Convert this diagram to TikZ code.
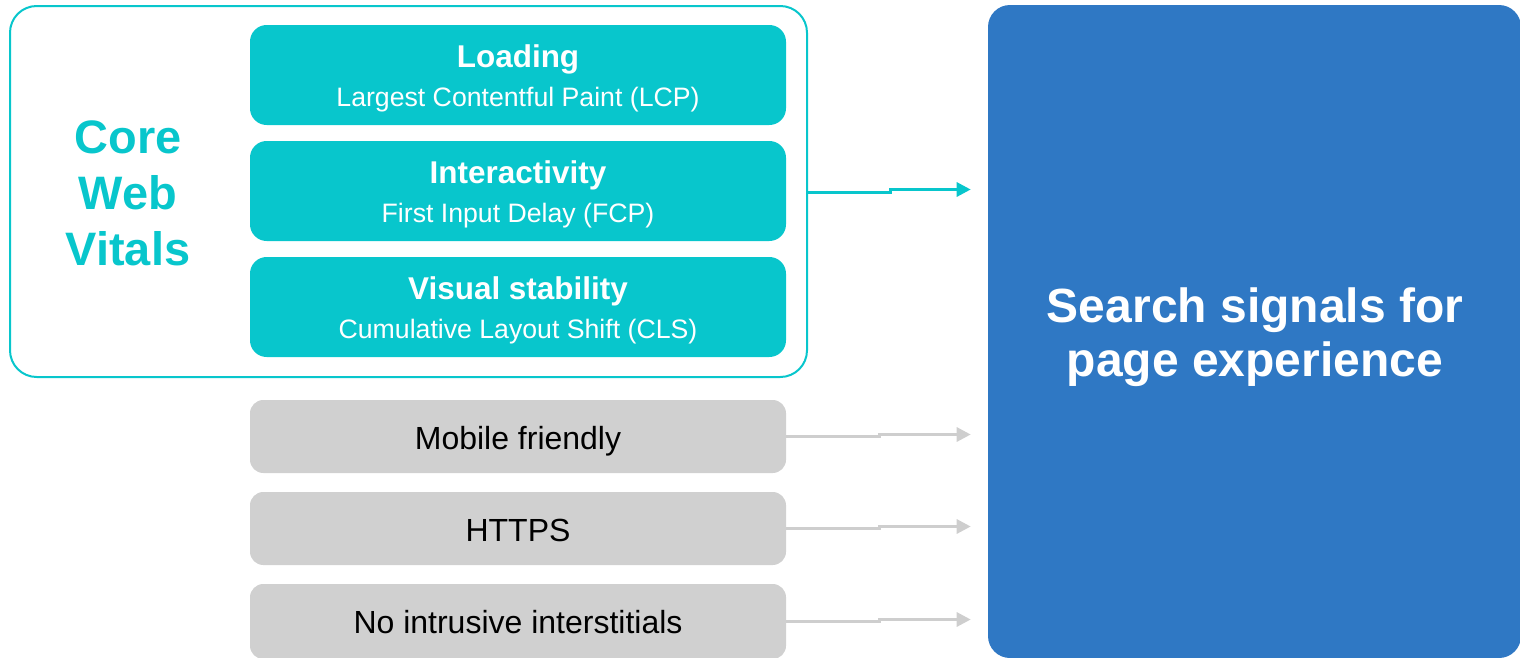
\documentclass[tikz,border=0pt]{standalone}
\usepackage{fontspec}
\setmainfont{Liberation Sans}
\usetikzlibrary{arrows.meta,calc}
\definecolor{teal}{RGB}{8,198,204}
\definecolor{sigblue}{RGB}{47,120,196}
\definecolor{greybox}{RGB}{208,208,208}
\definecolor{greyline}{RGB}{206,206,206}
\tikzset{
  px/.style={x=0.75pt,y=-0.75pt},
  frame/.style={draw=teal,line width=1.5pt,rounded corners=20pt,minimum width=597.75pt,minimum height=278.25pt,inner sep=0pt},
  bluebox/.style={fill=sigblue,draw=none,rounded corners=16.5pt,minimum width=399.75pt,minimum height=489.75pt,inner sep=0pt},
  cwvbox/.style={fill=teal,draw=none,rounded corners=12.5pt,minimum width=402pt,minimum height=75pt,inner sep=0pt},
  sigbox/.style={fill=greybox,draw=none,rounded corners=10pt,minimum width=402pt,minimum height=54.75pt,inner sep=0pt},
  ttitle/.style={anchor=base,text=white,font=\bfseries\fontsize{23.6}{28}\selectfont,inner sep=0pt},
  tsub/.style={anchor=base,text=white,font=\fontsize{20}{24}\selectfont,inner sep=0pt},
  glabel/.style={anchor=base,text=black,font=\fontsize{24}{28}\selectfont,inner sep=0pt},
  cwvlabel/.style={anchor=base,text=teal,font=\bfseries\fontsize{35.2}{42}\selectfont,inner sep=0pt},
  biglabel/.style={anchor=base,text=white,font=\bfseries\fontsize{36}{42}\selectfont,inner sep=0pt},
  tarrow/.style={draw=teal,line width=2.25pt,-{Triangle[length=10.5pt,width=10.5pt]},shorten >=12.75pt},
  garrow/.style={draw=greyline,line width=2.25pt,-{Triangle[length=10.5pt,width=10.5pt]},shorten >=12.75pt},
}
\begin{document}
\begin{tikzpicture}[px]
\useasboundingbox (0,0) rectangle (1520,657);
% outer Core Web Vitals frame
\node[frame] (outer) at (408.5,191.5) {};
% blue target
\node[bluebox] (blue) at (1254.5,331.5) {};
% teal boxes
\node[cwvbox] (l1) at (518,75) {};
\node[cwvbox] (l2) at (518,191) {};
\node[cwvbox] (l3) at (518,307) {};
\node[ttitle] (l1t) at (518,67) {Loading};
\node[tsub] (l1s) at (518,106) {Largest Contentful Paint (LCP)};
\node[ttitle] (l2t) at (518,183) {Interactivity};
\node[tsub] (l2s) at (518,222) {First Input Delay (FCP)};
\node[ttitle] (l3t) at (518,299) {Visual stability};
\node[tsub] (l3s) at (518,338) {Cumulative Layout Shift (CLS)};
% Core Web Vitals
\node[cwvlabel] (cwv1) at (128,153) {Core};
\node[cwvlabel] (cwv2) at (128,209) {Web};
\node[cwvlabel] (cwv3) at (128,265) {Vitals};
% grey boxes
\node[sigbox] (g1) at (518,436.5) {};
\node[sigbox] (g2) at (518,528.5) {};
\node[sigbox,minimum height=56.25pt] (g3) at (518,621.5) {};
\node[glabel] (g1l) at (518,449) {Mobile friendly};
\node[glabel] (g2l) at (518,541) {HTTPS};
\node[glabel] (g3l) at (518,633) {No intrusive interstitials};
% big label
\node[biglabel] (big1) at (1255,322) {Search signals for};
\node[biglabel] (big2) at (1255,376) {page experience};
% arrows
\draw[tarrow] ([yshift=-0.75pt]outer.east) -- ++(82,0) -- ++(0,-3) -- ($([yshift=-0.75pt]outer.east -| blue.west)+(0,-3)$);
\draw[garrow] (g1.east) -- ++(93,0) -- ++(0,-2) -- ($(g1.east -| blue.west)+(0,-2)$);
\draw[garrow] (g2.east) -- ++(93,0) -- ++(0,-2) -- ($(g2.east -| blue.west)+(0,-2)$);
\draw[garrow] (g3.east) -- ++(93,0) -- ++(0,-2) -- ($(g3.east -| blue.west)+(0,-2)$);
\end{tikzpicture}
\end{document}
